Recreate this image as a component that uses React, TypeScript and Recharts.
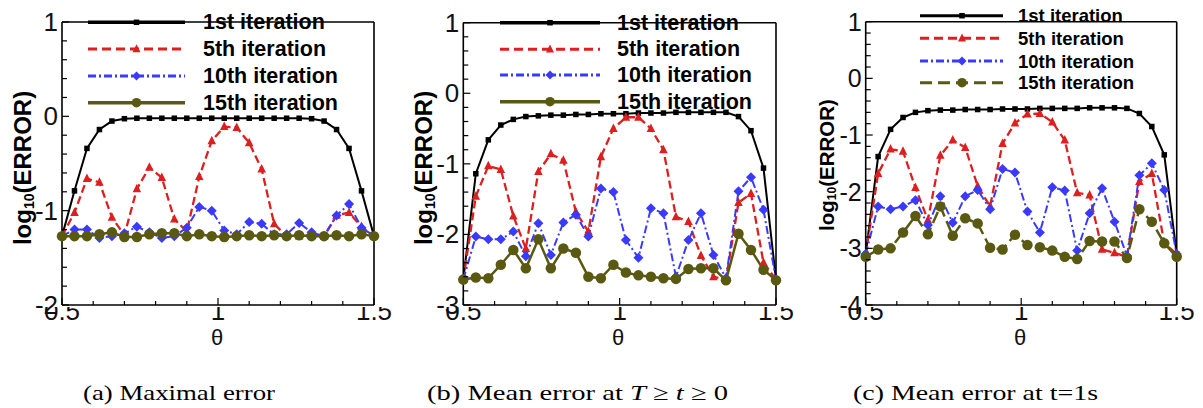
import React from 'react';
import { LineChart, Line, XAxis, YAxis, Legend } from 'recharts';

// θ sample positions
const theta = [0.5, 0.54, 0.58, 0.62, 0.66, 0.7, 0.74, 0.78, 0.82, 0.86, 0.9, 0.94, 0.98, 1.02, 1.06, 1.1, 1.14, 1.18, 1.22, 1.26, 1.3, 1.34, 1.38, 1.42, 1.46, 1.5];

// (a) Maximal error
const maxIt1 = [-1.27, -0.79, -0.34, -0.14, -0.05, -0.025, -0.02, -0.02, -0.02, -0.02, -0.02, -0.02, -0.02, -0.02, -0.02, -0.02, -0.02, -0.02, -0.02, -0.02, -0.025, -0.05, -0.14, -0.34, -0.79, -1.27];
const maxIt5 = [-1.27, -1.02, -0.66, -0.7, -1.07, -1.26, -0.77, -0.54, -0.65, -1.09, -1.22, -0.64, -0.26, -0.11, -0.12, -0.28, -0.56, -1.14, -1.27, -1.27, -1.26, -1.27, -1.05, -1.02, -1.17, -1.27];
const maxIt10 = [-1.27, -1.2, -1.2, -1.29, -1.27, -1.24, -1.17, -1.23, -1.29, -1.27, -1.18, -0.96, -1.0, -1.21, -1.25, -1.12, -1.14, -1.25, -1.25, -1.13, -1.23, -1.27, -1.05, -0.93, -1.18, -1.27];
const maxIt15 = [-1.27, -1.27, -1.27, -1.25, -1.23, -1.28, -1.28, -1.25, -1.24, -1.24, -1.27, -1.25, -1.27, -1.28, -1.27, -1.26, -1.27, -1.26, -1.27, -1.26, -1.27, -1.27, -1.26, -1.27, -1.25, -1.27];

// (b) Mean error at T >= t >= 0
const meanIt1 = [-2.64, -1.14, -0.66, -0.45, -0.37, -0.33, -0.32, -0.31, -0.31, -0.3, -0.3, -0.29, -0.29, -0.29, -0.28, -0.28, -0.28, -0.27, -0.27, -0.27, -0.27, -0.27, -0.33, -0.53, -1.06, -2.64];
const meanIt5 = [-2.64, -1.46, -1.03, -1.08, -1.74, -2.2, -1.11, -0.86, -0.95, -1.68, -1.96, -0.9, -0.5, -0.34, -0.34, -0.5, -0.8, -1.75, -1.82, -2.3, -2.6, -2.64, -1.55, -1.42, -2.4, -2.64];
const meanIt10 = [-2.64, -2.03, -2.07, -2.07, -1.96, -2.31, -1.84, -2.29, -1.83, -1.72, -2.03, -1.35, -1.4, -2.08, -2.33, -1.63, -1.7, -2.6, -2.08, -1.7, -2.29, -2.62, -1.39, -1.19, -1.65, -2.64];
const meanIt15 = [-2.64, -2.61, -2.62, -2.43, -2.22, -2.48, -2.07, -2.48, -2.2, -2.26, -2.6, -2.62, -2.43, -2.54, -2.58, -2.6, -2.62, -2.63, -2.49, -2.48, -2.48, -2.65, -1.99, -2.22, -2.5, -2.65];

// (c) Mean error at t=1s
const t1It1 = [-3.1, -1.38, -0.9, -0.69, -0.6, -0.57, -0.56, -0.56, -0.55, -0.55, -0.55, -0.54, -0.54, -0.54, -0.53, -0.53, -0.53, -0.53, -0.52, -0.52, -0.52, -0.53, -0.62, -0.85, -1.35, -3.1];
const t1It5 = [-3.1, -1.68, -1.25, -1.29, -1.93, -2.5, -1.36, -1.09, -1.22, -1.9, -2.26, -1.15, -0.79, -0.63, -0.62, -0.77, -1.09, -2.02, -2.06, -3.02, -3.08, -3.15, -1.82, -1.68, -2.91, -3.1];
const t1It10 = [-3.1, -2.26, -2.31, -2.26, -2.15, -2.59, -2.08, -2.55, -2.08, -1.97, -2.31, -1.6, -1.66, -2.35, -2.72, -1.92, -1.98, -3.04, -2.38, -1.94, -2.53, -3.13, -1.71, -1.5, -1.97, -3.1];
const t1It15 = [-3.15, -3.02, -3.0, -2.72, -2.43, -2.75, -2.26, -2.78, -2.47, -2.56, -2.99, -3.02, -2.76, -2.94, -2.98, -3.04, -3.15, -3.19, -2.87, -2.88, -2.88, -3.17, -2.31, -2.53, -2.91, -3.15];

const seriesNames = ['1st iteration', '5th iteration', '10th iteration', '15th iteration'];
const xMajorTicks = [0.5, 1, 1.5];
const xAllTicks = [0.5, 0.6, 0.7, 0.8, 0.9, 1, 1.1, 1.2, 1.3, 1.4, 1.5];
const yMajorA = [-2, -1, 0, 1];
const yMajorB = [-3, -2, -1, 0, 1];
const yMajorC = [-4, -3, -2, -1, 0, 1];

const withMinor = (majors: number[]) => {
  const out: number[] = [];
  for (let i = 0; i < majors.length - 1; i++) {
    for (let k = 0; k < 5; k++) out.push(Math.round((majors[i] + (k * (majors[i + 1] - majors[i])) / 5) * 1000) / 1000);
  }
  out.push(majors[majors.length - 1]);
  return out;
};

const buildRows = (a: number[], b: number[], c: number[], d: number[]) =>
  theta.map((t, i) => ({ theta: t, s1: a[i], s5: b[i], s10: c[i], s15: d[i] }));

const SANS = '"Liberation Sans", Arial, Helvetica, sans-serif';
const SERIF = '"Liberation Serif", "Times New Roman", serif';

type Kind = 'square' | 'triangle' | 'diamond' | 'circle';
const STYLE = [
  { key: 's1', color: '#000000', width: 2, dash: undefined as string | undefined, kind: 'square' as Kind, size: 5.5, lw: 3.5, ldash: undefined as string | undefined, lsize: 5.5 },
  { key: 's5', color: '#dc1f1f', width: 2.3, dash: '8 4', kind: 'triangle' as Kind, size: 8.5, lw: 3, ldash: '9 5', lsize: 8 },
  { key: 's10', color: '#3a3aff', width: 2, dash: '8 3 2 3', kind: 'diamond' as Kind, size: 10, lw: 3, ldash: '8 3 2 3', lsize: 9 },
  { key: 's15', color: '#5a5912', width: 2.5, dash: undefined as string | undefined, kind: 'circle' as Kind, size: 10.5, lw: 3.5, ldash: undefined as string | undefined, lsize: 9.5 },
];

function Marker({ kind, cx, cy, color, s }: { kind: Kind; cx?: number; cy?: number; color: string; s: number }) {
  if (cx == null || cy == null || isNaN(cx) || isNaN(cy)) return null;
  if (kind === 'square') return <rect x={cx - s / 2} y={cy - s / 2} width={s} height={s} fill={color} />;
  if (kind === 'triangle')
    return <polygon points={`${cx},${cy - s * 0.6} ${cx - s / 2},${cy + s * 0.4} ${cx + s / 2},${cy + s * 0.4}`} fill={color} />;
  if (kind === 'diamond')
    return <polygon points={`${cx},${cy - s / 2} ${cx + s / 2},${cy} ${cx},${cy + s / 2} ${cx - s / 2},${cy}`} fill={color} />;
  return <circle cx={cx} cy={cy} r={s / 2} fill={color} />;
}

const near = (v: number, step: number) => Math.abs(v / step - Math.round(v / step)) < 1e-6;

function XTick(props: any) {
  const { x, y, payload, cid } = props;
  const v = payload.value as number;
  const major = near(v, 0.5);
  const id = `${cid}-${Math.round(v * 100)}`;
  return (
    <g>
      <line x1={x} x2={x} y1={y} y2={y - (major ? 7 : 4)} stroke="#000" strokeWidth={1.2} />
      {major && (
        <>
          <defs>
            <clipPath id={id}>
              <rect x={x - 40} y={y + 2} width={80} height={40} />
            </clipPath>
          </defs>
          <text x={x} y={y + 15} textAnchor="middle" fontFamily={SANS} fontSize={26} fill="#111" clipPath={`url(#${id})`}>
            {String(v)}
          </text>
        </>
      )}
    </g>
  );
}

function YTick(props: any) {
  const { x, y, payload, fs } = props;
  const v = payload.value as number;
  const major = near(v, 1);
  return (
    <g>
      <line x1={x} x2={x + (major ? 7 : 5)} y1={y} y2={y} stroke="#000" strokeWidth={1.2} />
      {major && (
        <text x={x - 4} y={y} textAnchor="end" dominantBaseline="central" fontFamily={SANS} fontSize={fs} fill="#111">
          {String(Math.round(v))}
        </text>
      )}
    </g>
  );
}

function YLabel({ cfg }: any) {
  const { x, y, fs, sub } = cfg.ylabel;
  return (
    <text transform={`translate(${x},${y}) rotate(-90)`} textAnchor="middle" dominantBaseline="central" fontFamily={SANS} fontWeight="bold" fontSize={fs} fill="#000">
      log<tspan fontSize={sub} dy={fs * 0.28}>10</tspan>
      <tspan dy={-fs * 0.28}>(ERROR)</tspan>
    </text>
  );
}

function XLabel({ cfg }: any) {
  return (
    <g>
      <text x={cfg.thetaX} y={345} textAnchor="middle" fontFamily={SANS} fontSize={22} fill="#111">
        θ
      </text>
      <text x={cfg.caption.x} y={400} fontFamily={SERIF} fontSize={22} fill="#000" textLength={cfg.caption.w} lengthAdjust="spacingAndGlyphs">
        {cfg.caption.parts.map((p: any, i: number) => (
          <tspan key={i} fontStyle={p.it ? 'italic' : 'normal'}>
            {p.t}
          </tspan>
        ))}
      </text>
    </g>
  );
}

function LegendBox({ cfg }: any) {
  const L = cfg.legend;
  return (
    <svg width={cfg.width} height={130} style={{ display: 'block', overflow: 'visible' }}>
      {STYLE.map((s, i) => {
        const y = L.rows[i];
        const ldash = i === 3 && cfg.oliveDash ? '12 6' : s.ldash;
        return (
          <g key={s.key}>
            <line x1={L.x1} x2={L.x2} y1={y} y2={y} stroke={s.color} strokeWidth={L.lw ?? s.lw} strokeDasharray={ldash} />
            <Marker kind={s.kind} cx={L.mx} cy={y} color={s.color} s={s.lsize} />
            <text x={L.tx} y={y} dominantBaseline="central" fontFamily={SANS} fontWeight="bold" fontSize={L.fs} fill="#000">
              {seriesNames[i]}
            </text>
          </g>
        );
      })}
    </svg>
  );
}

// plot box: left, right, top, bottom edges in chart-local pixels
const panels = [
  {
    id: 'pa',
    left: 0,
    width: 400,
    box: { l: 62, r: 374, t: 22, b: 305 },
    rows: buildRows(maxIt1, maxIt5, maxIt10, maxIt15),
    yMajor: yMajorA,
    yFs: 26,
    legend: { x1: 88, x2: 185, mx: 136.5, tx: 203, rows: [22.3, 49, 76, 102.7], fs: 21.5 },
    ylabel: { x: 22, y: 168, fs: 24, sub: 14 },
    thetaX: 217,
    caption: { x: 83, w: 192, parts: [{ t: '(a) Maximal error' }] },
    oliveDash: false,
  },
  {
    id: 'pb',
    left: 400,
    width: 400,
    box: { l: 63.3, r: 376, t: 22.7, b: 305 },
    rows: buildRows(meanIt1, meanIt5, meanIt10, meanIt15),
    yMajor: yMajorB,
    yFs: 26,
    legend: { x1: 100, x2: 200, mx: 150, tx: 217, rows: [22.7, 49.3, 75, 101.7], fs: 21.5 },
    ylabel: { x: 23, y: 168, fs: 24, sub: 14 },
    thetaX: 218,
    caption: {
      x: 27,
      w: 301,
      parts: [{ t: '(b) Mean error at ' }, { t: 'T', it: true }, { t: ' ≥ ' }, { t: 't', it: true }, { t: ' ≥ 0' }],
    },
    oliveDash: false,
  },
  {
    id: 'pc',
    left: 800,
    width: 403,
    box: { l: 65.7, r: 376.7, t: 21.7, b: 305 },
    rows: buildRows(t1It1, t1It5, t1It10, t1It15),
    yMajor: yMajorC,
    yFs: 25,
    legend: { x1: 120, x2: 203, mx: 162, tx: 218, rows: [15.7, 38.3, 61, 82.7], fs: 18.5, lw: 3 },
    ylabel: { x: 26, y: 165, fs: 20.5, sub: 12 },
    thetaX: 220,
    caption: { x: 53, w: 245, parts: [{ t: '(c) Mean error at t=1s' }] },
    oliveDash: true,
  },
];

function Panel({ cfg }: any) {
  const yTicks = withMinor(cfg.yMajor);
  const yDomain = [cfg.yMajor[0], cfg.yMajor[cfg.yMajor.length - 1]];
  const xDomain = [xMajorTicks[0], xMajorTicks[xMajorTicks.length - 1]];
  const axisLine = { stroke: '#000', strokeWidth: 1.6 };
  const A = 1; // axis thickness reserved by recharts (axes of size 0 are not drawn)
  const margin = {
    left: cfg.box.l - A,
    right: cfg.width - cfg.box.r - A,
    top: cfg.box.t - A,
    bottom: 408 - cfg.box.b - A,
  };
  return (
    <div style={{ position: 'absolute', left: cfg.left, top: 0 }}>
      <LineChart width={cfg.width} height={408} data={cfg.rows} margin={margin}>
        <XAxis
          dataKey="theta"
          type="number"
          domain={xDomain}
          ticks={xAllTicks}
          interval={0}
          tick={<XTick cid={cfg.id} />}
          tickLine={false}
          tickSize={0}
          tickMargin={0}
          axisLine={axisLine}
          height={A}
          label={<XLabel cfg={cfg} />}
        />
        <XAxis
          xAxisId="top"
          orientation="top"
          dataKey="theta"
          type="number"
          domain={xDomain}
          ticks={xMajorTicks}
          interval={0}
          tick={false}
          tickLine={false}
          axisLine={axisLine}
          height={A}
        />
        <YAxis
          type="number"
          domain={yDomain}
          ticks={yTicks}
          interval={0}
          tick={<YTick fs={cfg.yFs} />}
          tickLine={false}
          tickSize={0}
          tickMargin={0}
          axisLine={axisLine}
          width={A}
          label={<YLabel cfg={cfg} />}
        />
        <YAxis
          yAxisId="right"
          orientation="right"
          type="number"
          domain={yDomain}
          ticks={cfg.yMajor}
          interval={0}
          tick={false}
          tickLine={false}
          axisLine={axisLine}
          width={A}
        />
        <Legend
          layout="horizontal"
          verticalAlign="middle"
          align="center"
          wrapperStyle={{ left: 0, top: 0, width: cfg.width, height: 130 }}
          content={() => <LegendBox cfg={cfg} />}
        />
        {STYLE.map((s, i) => (
          <Line
            key={s.key}
            dataKey={s.key}
            name={seriesNames[i]}
            type="linear"
            stroke={s.color}
            strokeWidth={s.width}
            strokeDasharray={i === 3 && cfg.oliveDash ? '12 5' : s.dash}
            isAnimationActive={false}
            activeDot={false}
            dot={(p: any) => <Marker key={`${s.key}-${p.index}`} kind={s.kind} cx={p.cx} cy={p.cy} color={s.color} s={s.size} />}
          />
        ))}
      </LineChart>
    </div>
  );
}

export default function App() {
  return (
    <div style={{ position: 'absolute', left: 0, top: 0, width: 1203, height: 408, background: '#fff', overflow: 'hidden' }}>
      {panels.map((p) => (
        <Panel key={p.id} cfg={p} />
      ))}
    </div>
  );
}
